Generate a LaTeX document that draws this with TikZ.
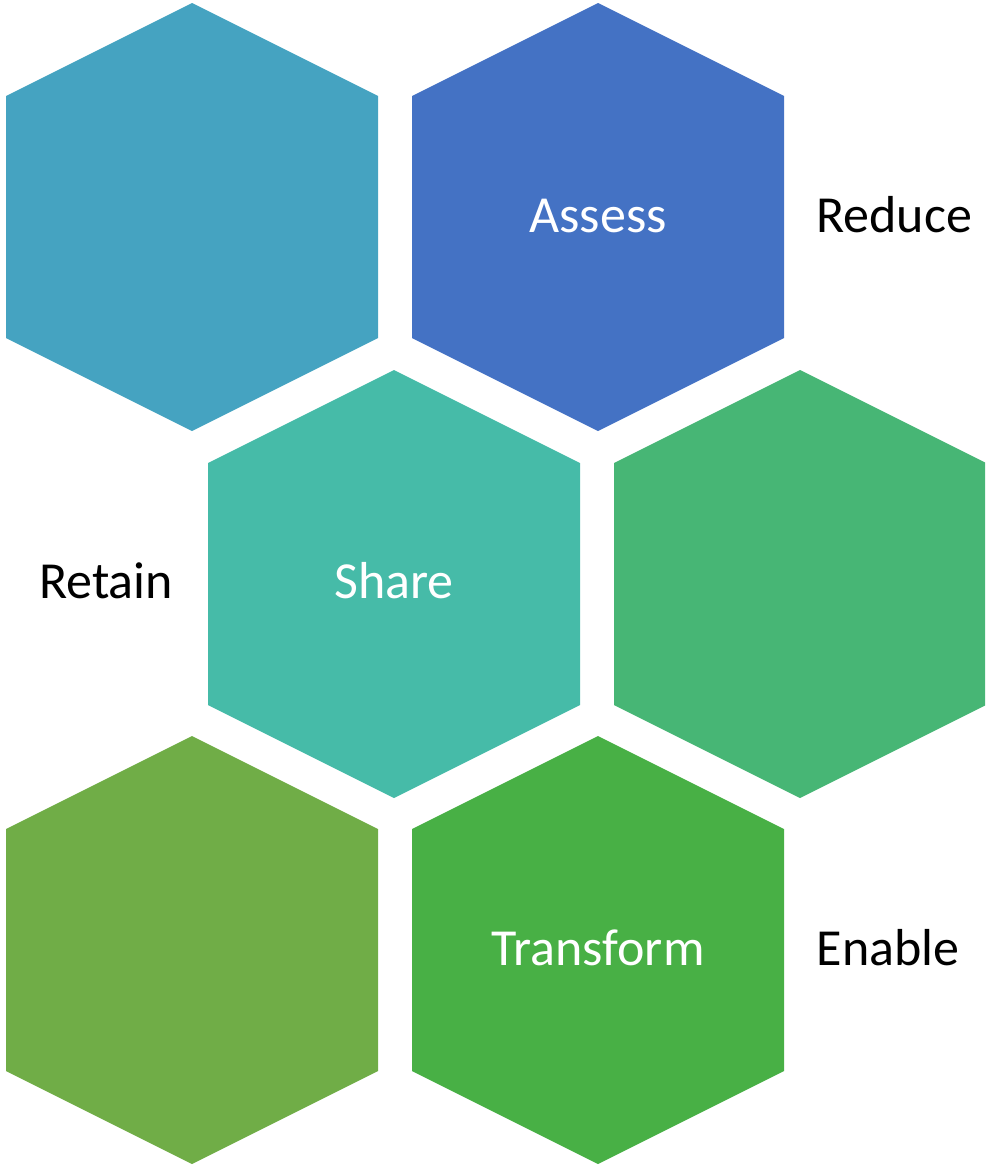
\documentclass[tikz,border=0pt]{standalone}
\usepackage{fontspec}
\setmainfont{Carlito}
\definecolor{hexA}{HTML}{45A3C1}
\definecolor{hexB}{HTML}{4472C4}
\definecolor{hexC}{HTML}{46BBA8}
\definecolor{hexD}{HTML}{47B675}
\definecolor{hexE}{HTML}{70AD47}
\definecolor{hexF}{HTML}{48B045}
\begin{document}
\begin{tikzpicture}[x=1pt,y=-1pt,
  hexlabel/.style={anchor=base,inner sep=0pt,text=white,font=\fontsize{52}{62}\selectfont},
  sidelabel/.style={anchor=base,inner sep=0pt,text=black,font=\fontsize{52}{62}\selectfont}]
\useasboundingbox (0,0) rectangle (985,1167);
\clip (0,0) rectangle (985,1167);
\foreach \cx/\cy/\col in {192/217/hexA,598/217/hexB,394/584/hexC,800/584/hexD,192/950/hexE,598/950/hexF}{
  \fill[\col] (\cx,\cy-214) -- (\cx+186,\cy-121) -- (\cx+186,\cy+121) -- (\cx,\cy+214)
     -- (\cx-186,\cy+121) -- (\cx-186,\cy-121) -- cycle;
}
\node[hexlabel] (assess) at (598,232) {Assess};
\node[hexlabel] (share) at (394,598) {Share};
\node[hexlabel] (transform) at (598,965) {Transform};
\node[sidelabel] (reduce) at (894,232) {Reduce};
\node[sidelabel] (retain) at (106,598) {Retain};
\node[sidelabel] (enable) at (888,965) {Enable};
\end{tikzpicture}
\end{document}
